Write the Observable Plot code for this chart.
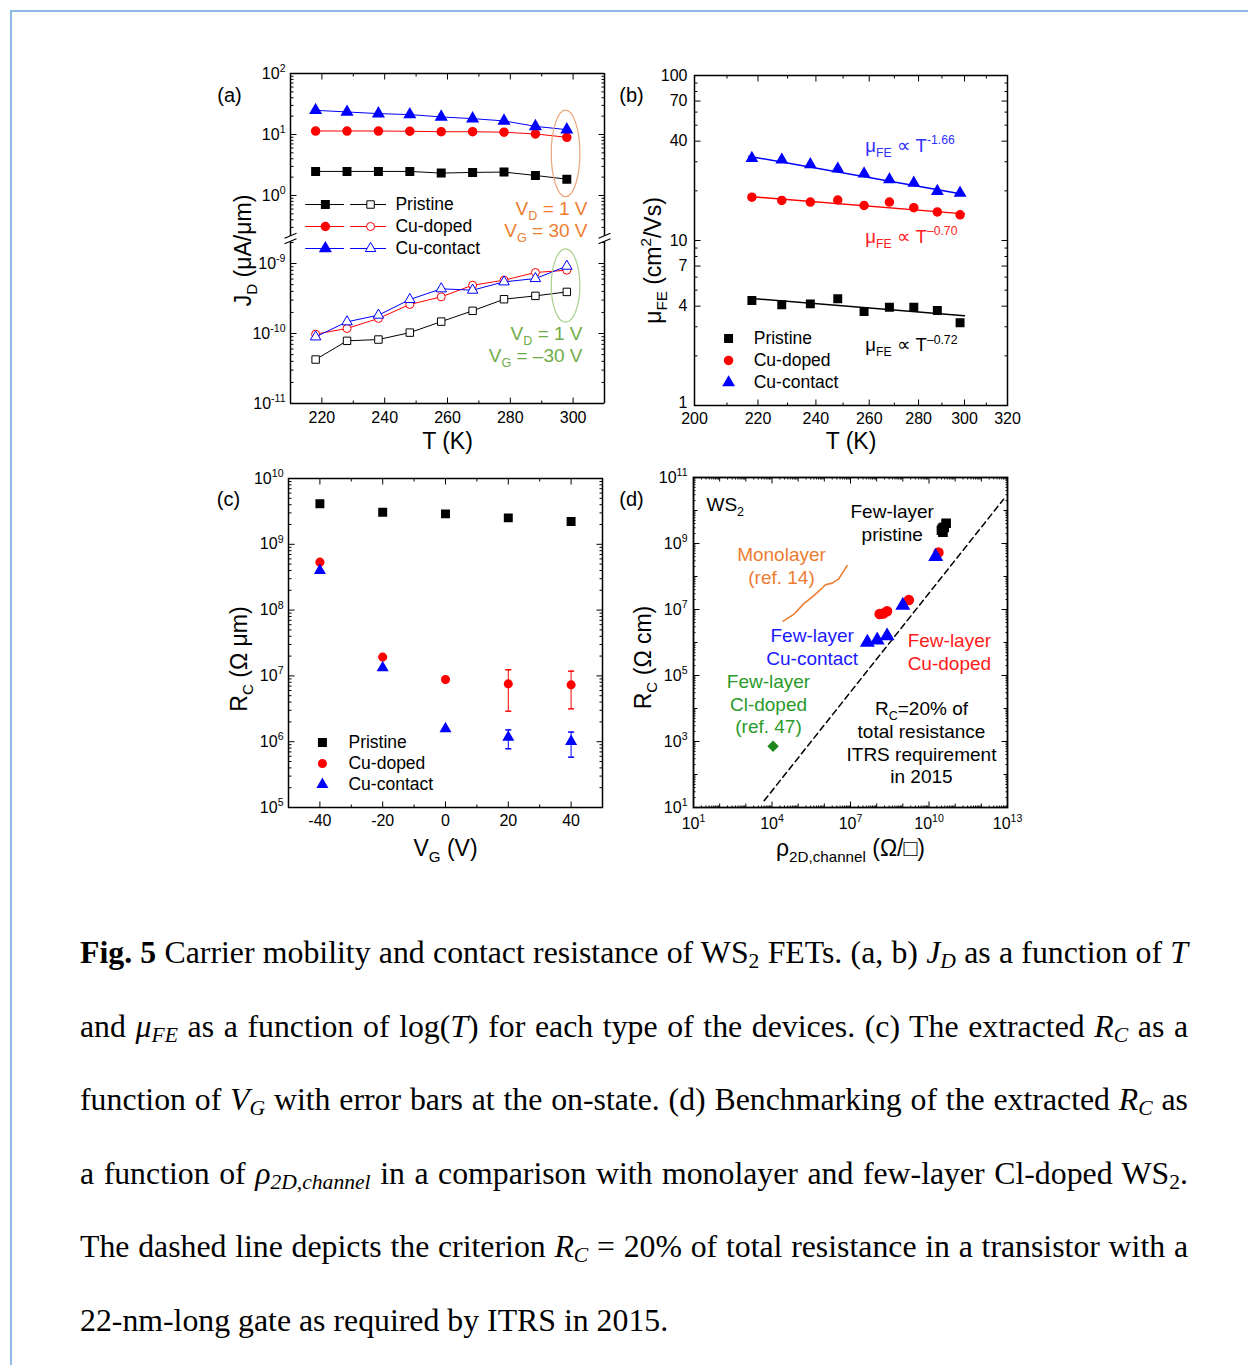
<!DOCTYPE html>
<html>
<head>
<meta charset="utf-8">
<script src="https://cdn.jsdelivr.net/npm/d3@7"></script>
<script src="https://cdn.jsdelivr.net/npm/@observablehq/plot@0.6"></script>
<style>
html, body { margin: 0; padding: 0; background: #fff; }
#page { position: relative; width: 1248px; height: 1365px; overflow: hidden; background: #fff; }
#border { position: absolute; left: 10px; top: 10px; width: 1400px; height: 1500px; border-top: 2px solid #8dbbe6; border-left: 2px solid #8dbbe6; }
.panel { position: absolute; }
.panel svg { overflow: visible; display: block; }
#caption { position: absolute; left: 80px; top: 916px; width: 1108px; font-family: "Liberation Serif", "Times New Roman", serif; font-size: 31.8px; color: #000; }
#caption .ln { height: 73.6px; line-height: 73.6px; text-align: justify; text-align-last: justify; word-spacing: -1.5px; }
#caption .ln.last { text-align: left; text-align-last: left; word-spacing: normal; }
#caption sub { font-size: 0.68em; vertical-align: -0.22em; line-height: 0; }
</style>
</head>
<body>
<div id="page">
  <div id="border"></div>
  <div class="panel" id="pa1" style="left:200px;top:55px"></div>
  <div class="panel" id="pa2" style="left:200px;top:240px"></div>
  <div class="panel" id="pb" style="left:610px;top:55px"></div>
  <div class="panel" id="pc" style="left:200px;top:460px"></div>
  <div class="panel" id="pd" style="left:610px;top:460px"></div>
  <div id="caption">
    <div class="ln"><b>Fig. 5</b> Carrier mobility and contact resistance of WS<sub>2</sub> FETs. (a, b) <i>J<sub>D</sub></i> as a function of <i>T</i></div>
    <div class="ln">and <i>μ<sub>FE</sub></i> as a function of log(<i>T</i>) for each type of the devices. (c) The extracted <i>R<sub>C</sub></i> as a</div>
    <div class="ln">function of <i>V<sub>G</sub></i> with error bars at the on-state. (d) Benchmarking of the extracted <i>R<sub>C</sub></i> as</div>
    <div class="ln">a function of <i>ρ<sub>2D,channel</sub></i> in a comparison with monolayer and few-layer Cl-doped WS<sub>2</sub>.</div>
    <div class="ln">The dashed line depicts the criterion <i>R<sub>C</sub></i> = 20% of total resistance in a transistor with a</div>
    <div class="ln last">22-nm-long gate as required by ITRS in 2015.</div>
  </div>
</div>
<script>
// ---------------- DATA ----------------
const deviceNames = ["Pristine", "Cu-doped", "Cu-contact"];

// (a) J_D vs T
const T = [218, 228, 238, 248, 258, 268, 278, 288, 298];
const jdOnPristine = [2.48, 2.48, 2.48, 2.48, 2.33, 2.39, 2.42, 2.13, 1.85];
const jdOnDoped = [11.4, 11.4, 11.4, 11.3, 11.1, 11.1, 10.9, 10.2, 9.0];
const jdOnContact = [24.9, 23.4, 22.0, 21.2, 19.4, 18.2, 16.7, 13.6, 12.0];
const jdOffPristine = [4.25e-11, 7.86e-11, 8.2e-11, 1.03e-10, 1.48e-10, 2.11e-10, 3.09e-10, 3.45e-10, 3.93e-10];
const jdOffDoped = [9.8e-11, 1.18e-10, 1.64e-10, 2.6e-10, 3.34e-10, 4.9e-10, 5.78e-10, 7.44e-10, 8.03e-10];
const jdOffContact = [8.95e-11, 1.47e-10, 1.83e-10, 3.06e-10, 4.35e-10, 4.16e-10, 5.47e-10, 6.1e-10, 9.16e-10];

// (b) mobility vs T
const muPristine = [4.33, 4.08, 4.13, 4.43, 3.71, 3.94, 3.94, 3.76, 3.17];
const muDoped = [18.3, 17.5, 17.1, 17.6, 16.3, 17.1, 15.8, 14.9, 14.3];
const muContact = [31.5, 30.8, 28.9, 27.2, 25.4, 23.4, 22.3, 19.9, 19.4];
const fitT = [217, 300];
const fitPristine = [4.47, 3.50];
const fitDoped = [18.5, 14.5];
const fitContact = [32.4, 19.0];
const fitLabels = ["μ_{FE} ∝ T^{–0.72}", "μ_{FE} ∝ T^{–0.70}", "μ_{FE} ∝ T^{-1.66}"];

// (c) R_C vs V_G
const VG = [-40, -20, 0, 20, 40];
const rcPristine = [4.12e9, 3.08e9, 2.9e9, 2.52e9, 2.22e9];
const rcDoped = [5.35e8, 1.93e7, 8.8e6, 7.57e6, 7.31e6];
const rcContact = [4.0e8, 1.33e7, 1.57e6, 1.17e6, 1.01e6];
const errVG = [20, 40];
const errDopedLo = [2.91e6, 3.16e6];
const errDopedHi = [1.24e7, 1.18e7];
const errContactLo = [7.8e5, 5.82e5];
const errContactHi = [1.51e6, 1.40e6];

// (d) R_C vs rho_2D
const rhoPristine = [4.5e10, 3.8e10, 3.3e10, 3.0e10, 3.4e10];
const rhoDoped = [2.3e10, 1.7e9, 2.5e8, 1.8e8, 1.3e8];
const rhoContact = [1.8e10, 1.0e9, 2.5e8, 1.05e8, 4.4e7];
const monoRho = [2.69e4, 6.76e4, 1.62e5, 3.98e5, 7.08e5, 1.10e6, 2.0e6, 3.55e6, 7.41e6];
const monoRc = [4.42e6, 7.08e6, 1.48e7, 2.63e7, 3.98e7, 5.62e7, 6.31e7, 8.51e7, 2.14e8];
const clRho = [1.1e4];
const clRc = [7.2e2];
const itrsRho = [5.0e3, 7.1e12];
const itrsRc = [1.6e1, 2.2e10];

// tick label values
const aTopTicks = [1, 10, 100];
const aBotTicks = [1e-11, 1e-10, 1e-9];
const aXTicks = [220, 240, 260, 280, 300];
const bXTicks = [200, 220, 240, 260, 280, 300, 320];
const bYTicks = [1, 4, 7, 10, 40, 70, 100];
const cXTicks = [-40, -20, 0, 20, 40];
const cYTicks = [1e5, 1e6, 1e7, 1e8, 1e9, 1e10];
const dXTicks = [1e1, 1e4, 1e7, 1e10, 1e13];
const dYTicks = [1e1, 1e3, 1e5, 1e7, 1e9, 1e11];

// ---------------- STYLE / HELPERS ----------------
const FONT = '"Liberation Sans", Arial, Helvetica, sans-serif';
const baseStyle = {fontFamily: FONT, fontSize: "16px", background: "transparent", overflow: "visible", color: "black"};
const COLORS = ["#000000", "#ff0000", "#0000ff"];
const SYMBOLS = ["square", "circle", "triangle"];
const TITLE = 23;
const pow10 = d => `10^{${Math.round(Math.log10(d))}}`;
const hyphenFmt = d => String(d).replace("−", "-");

const lineSym = (dx, dy) => ({draw(c, s) { const r = Math.sqrt(s / Math.PI); c.moveTo(0, 0); c.lineTo(dx * r, dy * r); }});
const TL = lineSym(1, 0), TR = lineSym(-1, 0), TB = lineSym(0, -1), TT = lineSym(0, 1);
const capSym = {draw(c, s) { const r = Math.sqrt(s / Math.PI); c.moveTo(-r, 0); c.lineTo(r, 0); }};
const ellipseSym = (rx, ry) => ({draw(c) {
  const k = 0.5523;
  c.moveTo(rx, 0);
  c.bezierCurveTo(rx, ry * k, rx * k, ry, 0, ry);
  c.bezierCurveTo(-rx * k, ry, -rx, ry * k, -rx, 0);
  c.bezierCurveTo(-rx, -ry * k, -rx * k, -ry, 0, -ry);
  c.bezierCurveTo(rx * k, -ry, rx, -ry * k, rx, 0);
  c.closePath();
}});
const breakGap = {draw(c) { c.moveTo(-4, -1.0); c.lineTo(4, -4.4); c.lineTo(4, 1.0); c.lineTo(-4, 4.4); c.closePath(); }};
const breakLines = {draw(c) { c.moveTo(-6, -0.2); c.lineTo(6, -5.2); c.moveTo(-6, 5.2); c.lineTo(6, 0.2); }};

function minorLog(lo, hi) {
  const out = [];
  for (let e = Math.floor(Math.log10(lo)) - 1; e <= Math.ceil(Math.log10(hi)); e++)
    for (let k = 2; k <= 9; k++) { const v = k * Math.pow(10, e); if (v > lo * 1.0001 && v < hi * 0.9999) out.push(v); }
  return out;
}
function decades(lo, hi) {
  const out = [];
  for (let e = Math.ceil(Math.log10(lo) - 1e-9); e <= Math.floor(Math.log10(hi) + 1e-9); e++) out.push(Math.pow(10, e));
  return out;
}
const tickOpt = {stroke: "black", strokeWidth: 1, fill: "none"};
function yTicks(vals, len) {
  return [Plot.dot(vals, {...tickOpt, y: d => d, frameAnchor: "left", symbol: TL, r: len}),
          Plot.dot(vals, {...tickOpt, y: d => d, frameAnchor: "right", symbol: TR, r: len})];
}
function xTicks(vals, len, {top = true, bottom = true} = {}) {
  const m = [];
  if (bottom) m.push(Plot.dot(vals, {...tickOpt, x: d => d, frameAnchor: "bottom", symbol: TB, r: len}));
  if (top) m.push(Plot.dot(vals, {...tickOpt, x: d => d, frameAnchor: "top", symbol: TT, r: len}));
  return m;
}
const label = (txt, opts) => Plot.text([txt], {text: d => d, fill: "black", textAnchor: "middle", lineAnchor: "middle", ...opts});
const note = (x, y, txt, opts) => Plot.text([[x, y]], {text: () => txt, ...opts});

// ---------------- PANEL (a) ----------------
const A_TOP_MIN = Math.pow(10, -0.738);
const A_BOT_MAX = Math.pow(10, -8.671);
const seriesA = deviceNames.map((name, i) => ({
  name, color: COLORS[i], symbol: SYMBOLS[i], r: [4.2, 4.0, 3.9][i],
  on: [jdOnPristine, jdOnDoped, jdOnContact][i],
  off: [jdOffPristine, jdOffDoped, jdOffContact][i]
}));
function legendRowA(s, yv) {
  return [
    Plot.line([[214.8, yv], [226.9, yv]], {stroke: s.color, strokeWidth: 1}),
    Plot.dot([[221.1, yv]], {symbol: s.symbol, r: s.r, fill: s.color, stroke: s.color}),
    Plot.line([[229.1, yv], [240.3, yv]], {stroke: s.color, strokeWidth: 1}),
    Plot.dot([[235.5, yv]], {symbol: s.symbol, r: s.r, fill: "white", stroke: s.color, strokeWidth: 1}),
    note(243.4, yv, s.name, {textAnchor: "start", fontSize: 17.5, fill: "black"})
  ];
}
const ORANGE = "#ed7d31", GREEN_T = "#70ad47";

const aTop = Plot.plot({
  width: 420, height: 185, marginLeft: 90, marginRight: 16, marginTop: 18, marginBottom: 0,
  style: baseStyle,
  x: {domain: [210, 310], axis: null},
  y: {type: "log", domain: [A_TOP_MIN, 100], ticks: aTopTicks, tickFormat: pow10, tickSize: 0, tickPadding: 5, label: null},
  marks: [
    ...seriesA.flatMap(s => {
      const d = T.map((t, i) => [t, s.on[i]]);
      return [Plot.line(d, {stroke: s.color, strokeWidth: 1}),
              Plot.dot(d, {symbol: s.symbol, r: s.r, fill: s.color, stroke: s.color})];
    }),
    Plot.dot([[297.6, 4.89]], {symbol: ellipseSym(14.3, 43.3), stroke: "#eca57c", strokeWidth: 1.2, fill: "none"}),
    note(304.6, 0.612, "V_{D} = 1 V", {textAnchor: "end", fontSize: 19, fill: ORANGE}),
    note(304.6, 0.267, "V_{G} = 30 V", {textAnchor: "end", fontSize: 19, fill: ORANGE}),
    legendRowA(seriesA[0], 0.711),
    legendRowA(seriesA[1], 0.310),
    ...yTicks(aTopTicks, 6),
    ...yTicks(minorLog(A_TOP_MIN, 100), 3),
    ...xTicks(aXTicks, 6, {bottom: false}),
    ...xTicks([230, 250, 270, 290], 3, {bottom: false}),
    Plot.ruleX([210, 310], {stroke: "black", strokeWidth: 1.5}),
    Plot.ruleY([100], {stroke: "black", strokeWidth: 1.5}),
    label("(a)", {frameAnchor: "top-left", dx: -61, dy: 22, fontSize: 20}),
    label("J_{D} (μA/μm)", {frameAnchor: "bottom-left", dx: -47, dy: 10, rotate: -90, fontSize: TITLE})
  ]
});

const aBot = Plot.plot({
  width: 420, height: 225, marginLeft: 90, marginRight: 16, marginTop: 0, marginBottom: 62,
  style: baseStyle,
  x: {domain: [210, 310], ticks: aXTicks, tickSize: 0, tickPadding: 8, label: null},
  y: {type: "log", domain: [1e-11, A_BOT_MAX], ticks: aBotTicks, tickFormat: pow10, tickSize: 0, tickPadding: 5, label: null},
  marks: [
    ...seriesA.flatMap(s => {
      const d = T.map((t, i) => [t, s.off[i]]);
      return [Plot.line(d, {stroke: s.color, strokeWidth: 1}),
              Plot.dot(d, {symbol: s.symbol, r: s.r, fill: "white", stroke: s.color, strokeWidth: 1})];
    }),
    Plot.dot([[297.6, 4.85e-10]], {symbol: ellipseSym(14.3, 36.7), stroke: "#a9d18e", strokeWidth: 1.2, fill: "none"}),
    note(303, 1.0e-10, "V_{D} = 1 V", {textAnchor: "end", fontSize: 19, fill: GREEN_T}),
    note(303, 4.85e-11, "V_{G} = –30 V", {textAnchor: "end", fontSize: 19, fill: GREEN_T}),
    legendRowA(seriesA[2], 1.64e-9),
    ...yTicks(aBotTicks, 6),
    ...yTicks(minorLog(1e-11, A_BOT_MAX), 3),
    ...xTicks(aXTicks, 6, {top: false}),
    ...xTicks([230, 250, 270, 290], 3, {top: false}),
    Plot.ruleX([210, 310], {stroke: "black", strokeWidth: 1.5}),
    Plot.ruleY([1e-11], {stroke: "black", strokeWidth: 1.5}),
    Plot.dot([[210, A_BOT_MAX], [310, A_BOT_MAX]], {symbol: breakGap, fill: "white", stroke: "none", dy: -2}),
    Plot.dot([[210, A_BOT_MAX], [310, A_BOT_MAX]], {symbol: breakLines, fill: "none", stroke: "black", strokeWidth: 1.2, dy: -2}),
    label("T (K)", {frameAnchor: "bottom", dy: 38, fontSize: TITLE})
  ]
});

// ---------------- PANEL (b) ----------------
const muSeries = [muPristine, muDoped, muContact];
const fitSeries = [fitPristine, fitDoped, fitContact];
const fitLabelY = [2.31, 10.47, 37.6];
const fitLabelColor = ["#000000", "#ff2020", "#3030ff"];
const legendBY = [2.55, 1.875, 1.377];
const bPlot = Plot.plot({
  width: 420, height: 410, marginLeft: 84, marginRight: 23, marginTop: 20, marginBottom: 60,
  style: baseStyle,
  x: {type: "log", domain: [200, 320], ticks: bXTicks, tickFormat: d => String(d), tickSize: 0, tickPadding: 7, label: null},
  y: {type: "log", domain: [1, 100], axis: null},
  marks: [
    Plot.text(bYTicks.filter(v => v > 1), {y: d => d, text: d => String(d), frameAnchor: "left", textAnchor: "end", lineAnchor: "middle", dx: -7, fontSize: 16, fill: "black"}),
    Plot.text(bYTicks.filter(v => v === 1), {y: d => d, text: d => String(d), frameAnchor: "left", textAnchor: "end", lineAnchor: "bottom", dx: -7, dy: 2, fontSize: 16, fill: "black"}),
    ...fitSeries.map((f, i) => Plot.line(fitT.map((t, j) => [t, f[j]]), {stroke: COLORS[i], strokeWidth: 1.5})),
    ...muSeries.map((m, i) => Plot.dot(T.map((t, j) => [t, m[j]]), {symbol: SYMBOLS[i], r: [4.2, 4.0, 3.8][i], fill: COLORS[i], stroke: COLORS[i]})),
    ...fitLabels.map((t, i) => note(258.5, fitLabelY[i], t, {textAnchor: "start", fontSize: 18.5, fill: fitLabelColor[i]})),
    ...deviceNames.flatMap((n, i) => [
      Plot.dot([[210.5, legendBY[i]]], {symbol: SYMBOLS[i], r: [4.2, 4.0, 3.8][i], fill: COLORS[i], stroke: COLORS[i]}),
      note(218.6, legendBY[i], n, {textAnchor: "start", fontSize: 17.5, fill: "black"})
    ]),
    ...yTicks(bYTicks, 6),
    ...yTicks(minorLog(1, 100).filter(v => !bYTicks.includes(v)), 3),
    ...xTicks(bXTicks, 6),
    ...xTicks([210, 230, 250, 270, 290, 310], 3),
    Plot.frame({stroke: "black", strokeWidth: 1.5}),
    label("(b)", {frameAnchor: "top-left", dx: -63, dy: 20, fontSize: 20}),
    label("T (K)", {frameAnchor: "bottom", dy: 36, fontSize: TITLE}),
    label("μ_{FE} (cm^{2}/Vs)", {frameAnchor: "left", dx: -41, dy: 20, rotate: -90, fontSize: TITLE})
  ]
});

// ---------------- PANEL (c) ----------------
const rcSeries = [rcPristine, rcDoped, rcContact];
const legendCY = [9.73e5, 4.67e5, 2.24e5];
const rC = [4.2, 3.8, 3.5];
const errC = [
  {lo: errDopedLo, hi: errDopedHi, color: COLORS[1]},
  {lo: errContactLo, hi: errContactHi, color: COLORS[2]}
];
const cPlot = Plot.plot({
  width: 420, height: 410, marginLeft: 88, marginRight: 18, marginTop: 18, marginBottom: 63,
  style: baseStyle,
  x: {domain: [-50, 50], ticks: cXTicks, tickFormat: hyphenFmt, tickSize: 0, tickPadding: 7, label: null},
  y: {type: "log", domain: [1e5, 1e10], ticks: cYTicks, tickFormat: pow10, tickSize: 0, tickPadding: 5, label: null},
  marks: [
    ...errC.flatMap(e => {
      const d = errVG.map((v, i) => ({x: v, lo: e.lo[i], hi: e.hi[i]}));
      return [
        Plot.ruleX(d, {x: "x", y1: "lo", y2: "hi", stroke: e.color, strokeWidth: 1}),
        Plot.dot(d, {x: "x", y: "lo", symbol: capSym, r: 3, stroke: e.color, fill: "none"}),
        Plot.dot(d, {x: "x", y: "hi", symbol: capSym, r: 3, stroke: e.color, fill: "none"})
      ];
    }),
    ...rcSeries.map((m, i) => Plot.dot(VG.map((v, j) => [v, m[j]]), {symbol: SYMBOLS[i], r: rC[i], fill: COLORS[i], stroke: COLORS[i]})),
    ...deviceNames.flatMap((n, i) => [
      Plot.dot([[-39.2, legendCY[i]]], {symbol: SYMBOLS[i], r: rC[i], fill: COLORS[i], stroke: COLORS[i]}),
      note(-30.9, legendCY[i], n, {textAnchor: "start", fontSize: 17.5, fill: "black"})
    ]),
    ...yTicks(cYTicks, 6),
    ...yTicks(minorLog(1e5, 1e10), 3),
    ...xTicks(cXTicks, 6),
    ...xTicks([-30, -10, 10, 30], 3),
    Plot.frame({stroke: "black", strokeWidth: 1.5}),
    label("(c)", {frameAnchor: "top-left", dx: -60, dy: 21, fontSize: 20}),
    label("V_{G} (V)", {frameAnchor: "bottom", dy: 41, fontSize: TITLE}),
    label("R_{C} (Ω μm)", {frameAnchor: "left", dx: -49, dy: 16, rotate: -90, fontSize: TITLE})
  ]
});

// ---------------- PANEL (d) ----------------
const RED_T = "#ff1a1a", BLUE_T = "#1a1aff", CL_GREEN = "#2a9a2a";
const dPlot = Plot.plot({
  width: 420, height: 410, marginLeft: 83, marginRight: 23, marginTop: 17, marginBottom: 63,
  style: baseStyle,
  x: {type: "log", domain: [1e1, 1e13], ticks: dXTicks, tickFormat: pow10, tickSize: 0, tickPadding: 10, label: null},
  y: {type: "log", domain: [1e1, 1e11], ticks: dYTicks, tickFormat: pow10, tickSize: 0, tickPadding: 6, label: null},
  marks: [
    Plot.line(itrsRho.map((r, i) => [r, itrsRc[i]]), {stroke: "black", strokeWidth: 1.5, strokeDasharray: "6,4"}),
    Plot.line(monoRho.map((r, i) => [r, monoRc[i]]), {stroke: ORANGE, strokeWidth: 1.6}),
    Plot.dot(clRho.map((r, i) => [r, clRc[i]]), {symbol: "diamond2", r: 4.2, fill: "#1e8a1e", stroke: "#1e8a1e"}),
    Plot.dot(rhoPristine.map((r, i) => [r, rcPristine[i]]), {symbol: "square", r: 4.6, fill: "black", stroke: "black"}),
    Plot.dot(rhoDoped.map((r, i) => [r, rcDoped[i]]), {symbol: "circle", r: 4.5, fill: COLORS[1], stroke: COLORS[1]}),
    Plot.dot(rhoContact.map((r, i) => [r, rcContact[i]]), {symbol: "triangle", r: 4.6, fill: COLORS[2], stroke: COLORS[2]}),
    note(31.4, 1.5e10, "WS_{2}", {textAnchor: "start", fontSize: 19, fill: "black"}),
    note(3.92e8, 4.54e9, "Few-layer\npristine", {fontSize: 19, lineHeight: 1.2, lineAnchor: "middle", fill: "black"}),
    note(2.31e4, 2.23e8, "Monolayer\n(ref. 14)", {fontSize: 19, lineHeight: 1.2, lineAnchor: "middle", fill: ORANGE}),
    note(3.44e5, 7.83e5, "Few-layer\nCu-contact", {fontSize: 19, lineHeight: 1.2, lineAnchor: "middle", fill: BLUE_T}),
    note(6.0e10, 5.4e5, "Few-layer\nCu-doped", {fontSize: 19, lineHeight: 1.2, lineAnchor: "middle", fill: RED_T}),
    note(7.35e3, 1.44e4, "Few-layer\nCl-doped\n(ref. 47)", {fontSize: 19, lineHeight: 1.2, lineAnchor: "middle", fill: CL_GREEN}),
    note(5.15e9, 966, "R_{C}=20% of\ntotal resistance\nITRS requirement\nin 2015", {fontSize: 19, lineHeight: 1.2, lineAnchor: "middle", fill: "black"}),
    ...yTicks(dYTicks, 6),
    ...yTicks(decades(1e1, 1e11).filter(v => !dYTicks.includes(v)), 4),
    ...yTicks(minorLog(1e1, 1e11), 2),
    ...xTicks(dXTicks, 6),
    ...xTicks(decades(1e1, 1e13).filter(v => !dXTicks.includes(v)), 4),
    ...xTicks(minorLog(1e1, 1e13), 2),
    Plot.frame({stroke: "black", strokeWidth: 1.8}),
    label("(d)", {frameAnchor: "top-left", dx: -62, dy: 22, fontSize: 20}),
    label("ρ_{2D,channel} (Ω/□)", {frameAnchor: "bottom", dy: 41, fontSize: TITLE}),
    label("R_{C} (Ω cm)", {frameAnchor: "left", dx: -50, dy: 15, rotate: -90, fontSize: TITLE})
  ]
});

document.getElementById("pa1").appendChild(aTop);
document.getElementById("pa2").appendChild(aBot);
document.getElementById("pb").appendChild(bPlot);
document.getElementById("pc").appendChild(cPlot);
document.getElementById("pd").appendChild(dPlot);

// ------------- rich text: ^{sup} and _{sub} -------------
function parseRich(s) {
  const segs = []; let i = 0, buf = "";
  while (i < s.length) {
    if ((s[i] === "^" || s[i] === "_") && s[i + 1] === "{") {
      if (buf) { segs.push({t: buf, m: "n"}); buf = ""; }
      const j = s.indexOf("}", i + 2);
      segs.push({t: s.slice(i + 2, j), m: s[i] === "^" ? "sup" : "sub"});
      i = j + 1;
    } else buf += s[i++];
  }
  if (buf) segs.push({t: buf, m: "n"});
  return segs;
}
const NS = "http://www.w3.org/2000/svg";
document.querySelectorAll("#page svg text, #page svg tspan").forEach(n => {
  if (n.children.length) return;
  const s = n.textContent;
  if (!/[\^_]\{/.test(s)) return;
  const fs = parseFloat(getComputedStyle(n).fontSize) || 16;
  n.textContent = "";
  let cur = 0;
  for (const seg of parseRich(s)) {
    const t = document.createElementNS(NS, "tspan");
    const target = seg.m === "sup" ? -0.42 * fs : seg.m === "sub" ? 0.27 * fs : 0;
    if (target !== cur) t.setAttribute("dy", (target - cur).toFixed(2));
    cur = target;
    if (seg.m !== "n") t.setAttribute("font-size", (0.66 * fs).toFixed(2));
    t.textContent = seg.t;
    n.appendChild(t);
  }
});
</script>
</body>
</html>
